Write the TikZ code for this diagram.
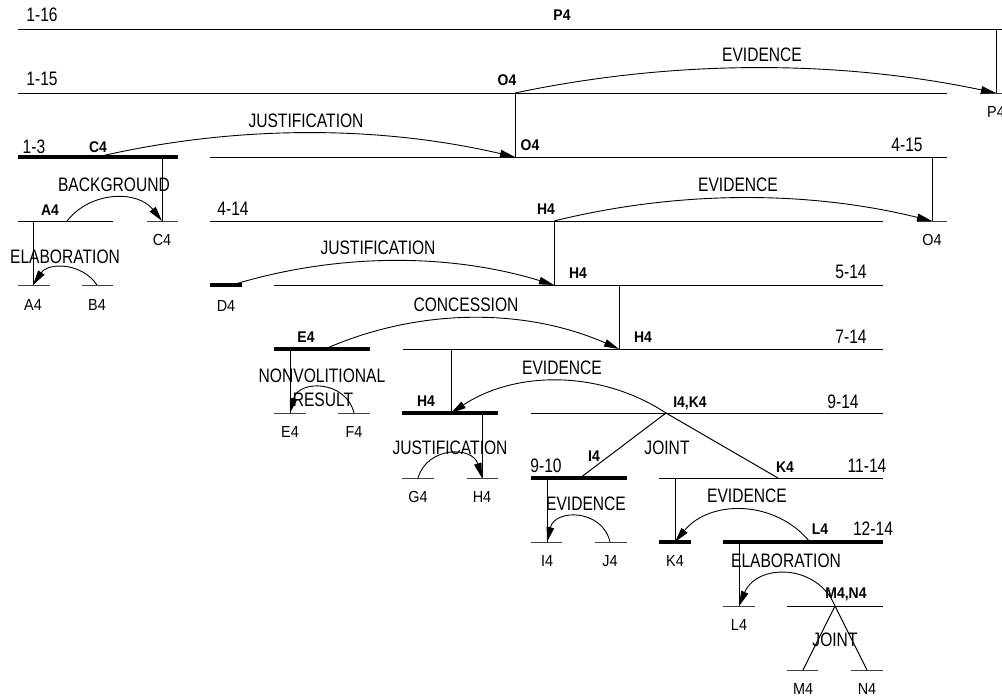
\documentclass[tikz,border=0pt]{standalone}
\usepackage{fontspec}
\setmainfont{Liberation Sans}[FakeStretch=0.8]
\newfontfamily\smallf{Liberation Sans}[FakeStretch=0.9]
\usetikzlibrary{arrows.meta}
\begin{document}
\begin{tikzpicture}[x=1pt,y=-1pt,
  thn/.style={line width=1pt,black},
  thk/.style={line width=3.3pt,black},
  leaf/.style={line width=1pt,black!75},
  rel/.style={line width=0.9pt,-{Triangle[length=15pt,width=7.5pt]}},
  big/.style={inner sep=0pt,font=\fontsize{19.5pt}{20pt}\selectfont,text height=14pt,text depth=0pt},
  bl/.style={inner sep=0pt,font=\smallf\bfseries\fontsize{15.5pt}{16pt}\selectfont,text height=11pt,text depth=0pt},
  lf/.style={inner sep=0pt,font=\smallf\fontsize{16pt}{17pt}\selectfont,text height=11.4pt,text depth=0pt}]
\useasboundingbox (0,0) rectangle (1002,696);
\clip (0,0) rectangle (1002,696);

% ---------- span lines ----------
\draw[thn] (18,29) -- (1012,29);
\draw[thn] (18,93) -- (947,93);
\draw[leaf] (980,93) -- (1012,93);
\draw[thk] (18,157) -- (178,157);
\draw[thn] (210,157) -- (947,157);
\draw[thn] (18,221) -- (113,221);
\draw[leaf] (147,221) -- (178,221);
\draw[thn] (210,221) -- (883,221);
\draw[leaf] (917,221) -- (947,221);
\draw[leaf] (18,285) -- (50,285);
\draw[leaf] (82,285) -- (113,285);
\draw[thk] (210,285) -- (242,285);
\draw[thn] (274,285) -- (883,285);
\draw[thk] (274,349) -- (370,349);
\draw[thn] (403,349) -- (883,349);
\draw[leaf] (274,413) -- (306,413);
\draw[leaf] (338,413) -- (370,413);
\draw[thk] (402,413) -- (498,413);
\draw[thn] (531,413) -- (883,413);
\draw[leaf] (402,478) -- (434,478);
\draw[leaf] (467,478) -- (498,478);
\draw[thk] (531,478) -- (627,478);
\draw[thn] (659,478) -- (883,478);
\draw[leaf] (531,542) -- (562,542);
\draw[leaf] (595,542) -- (627,542);
\draw[thk] (659,542) -- (691,542);
\draw[thk] (723,542) -- (883,542);
\draw[leaf] (723,606) -- (755,606);
\draw[thn] (787,606) -- (883,606);
\draw[leaf] (787,670) -- (818,670);
\draw[leaf] (851,670) -- (883,670);

% ---------- attachment points ----------
\coordinate (P4a) at (996,29);  \coordinate (P4b) at (996,93);
\coordinate (O4a) at (515,93);  \coordinate (O4b) at (515,157);
\coordinate (C4a) at (97,157);
\coordinate (C4v) at (162,157); \coordinate (C4b) at (162,221);
\coordinate (O4c) at (932,157); \coordinate (O4d) at (932,221);
\coordinate (A4a) at (67,221);
\coordinate (A4v) at (33,221);  \coordinate (A4b) at (33,285);
\coordinate (B4) at (97,285);
\coordinate (H4a) at (554,221); \coordinate (H4b) at (554,285);
\coordinate (D4) at (232,285);
\coordinate (H4c) at (619,285); \coordinate (H4d) at (619,349);
\coordinate (E4a) at (325,349);
\coordinate (E4v) at (290,349); \coordinate (E4b) at (290,413);
\coordinate (F4) at (354,413);
\coordinate (H4e) at (451,349); \coordinate (H4f) at (451,413);
\coordinate (IK) at (666,413);
\coordinate (H4g) at (482,413); \coordinate (H4h) at (482,478);
\coordinate (G4) at (418,478);
\coordinate (I4a) at (580,478);
\coordinate (K4a) at (778,478);
\coordinate (I4v) at (547,478); \coordinate (I4b) at (547,542);
\coordinate (J4) at (610,542);
\coordinate (K4v) at (675,478); \coordinate (K4b) at (675,542);
\coordinate (L4a) at (810,542);
\coordinate (L4v) at (739,542); \coordinate (L4b) at (739,606);
\coordinate (MN) at (835,606);
\coordinate (M4) at (803,670);  \coordinate (N4) at (867,670);

% ---------- vertical (nucleus) lines ----------
\draw[thn] (P4a) -- (P4b);
\draw[thn] (O4a) -- (O4b);
\draw[thn] (C4v) -- (C4b);
\draw[thn] (O4c) -- (O4d);
\draw[thn] (A4v) -- (A4b);
\draw[thn] (H4a) -- (H4b);
\draw[thn] (H4c) -- (H4d);
\draw[thn] (E4v) -- (E4b);
\draw[thn] (H4e) -- (H4f);
\draw[thn] (H4g) -- (H4h);
\draw[thn] (I4v) -- (I4b);
\draw[thn] (K4v) -- (K4b);
\draw[thn] (L4v) -- (L4b);

% ---------- joint lines ----------
\draw[thn] (IK) -- (I4a);
\draw[thn] (IK) -- (K4a);
\draw[thn] (MN) -- (M4);
\draw[thn] (MN) -- (N4);

% ---------- relation arcs ----------
\draw[rel] (O4a) .. controls +(158.6,-33.4) and +(-158.6,-33.4) .. (P4b);
\draw[rel] (C4a) .. controls +(137.5,-32.0) and +(-137.5,-32.0) .. (O4b);
\draw[rel] (H4a) .. controls +(124.2,-30.7) and +(-124.2,-30.7) .. (O4d);
\draw[rel] (A4a) .. controls +(24.2,-30.65) and +(-24.2,-30.65) .. (C4b);
\draw[rel] (B4) .. controls +(-15.3,-22.7) and +(15.3,-22.7) .. (A4b);
\draw[rel] (D4) .. controls +(104.9,-32.1) and +(-104.9,-32.1) .. (H4b);
\draw[rel] (E4a) .. controls +(93.6,-41.3) and +(-93.6,-41.3) .. (H4d);
\draw[rel] (F4) .. controls +(-8.3,-33.3) and +(8.3,-33.3) .. (E4b);
\draw[rel] (IK) .. controls +(-65.3,-42.8) and +(65.3,-42.8) .. (H4f);
\draw[rel] (G4) .. controls +(9.4,-32.0) and +(-9.4,-32.0) .. (H4h);
\draw[rel] (J4) .. controls +(-7.75,-33.3) and +(7.75,-33.3) .. (I4b);
\draw[rel] (L4a) .. controls +(-34.9,-42.6) and +(34.9,-42.6) .. (K4b);
\draw[rel] (MN) .. controls +(-17.8,-42.7) and +(17.8,-42.7) .. (L4b);

% ---------- labels ----------
\node[big] (t116) at (42,14) {1-16};
\node[bl] (tP4) at (562,15) {P4};
\node[big] (t115) at (42,78) {1-15};
\node[bl] (tO4a) at (507,80) {O4};
\node[big] (tEv1) at (762,54) {EVIDENCE};
\node[lf] (tP4l) at (996,112) {P4};
\node[big] (tJu1) at (306,120) {JUSTIFICATION};
\node[big] (t13) at (34,146) {1-3};
\node[bl] (tC4) at (98,147) {C4};
\node[bl] (tO4b) at (530,145) {O4};
\node[big] (t415) at (907,144) {4-15};
\node[big] (tBg) at (114,184) {BACKGROUND};
\node[bl] (tA4) at (50,210) {A4};
\node[big] (t414) at (233,208) {4-14};
\node[bl] (tH4a) at (546,209) {H4};
\node[big] (tEv2) at (738,184) {EVIDENCE};
\node[lf] (tC4l) at (162,240) {C4};
\node[lf] (tO4l) at (932,240) {O4};
\node[big] (tJu2) at (378,247) {JUSTIFICATION};
\node[big] (tEl1) at (65,256) {ELABORATION};
\node[bl] (tH4b) at (578,273) {H4};
\node[big] (t514) at (851,271) {5-14};
\node[lf] (tA4l) at (33,305) {A4};
\node[lf] (tB4l) at (97,305) {B4};
\node[lf] (tD4l) at (226,306) {D4};
\node[big] (tCon) at (466,304) {CONCESSION};
\node[bl] (tE4) at (306,337) {E4};
\node[bl] (tH4c) at (643,337) {H4};
\node[big] (t714) at (851,336) {7-14};
\node[big] (tNv) at (322,375) {NONVOLITIONAL};
\node[big] (tRs) at (323,399) {RESULT};
\node[big] (tEv3) at (562,367) {EVIDENCE};
\node[bl] (tH4d) at (426,401) {H4};
\node[bl] (tIK) at (690,402) {I4,K4};
\node[big] (t914) at (843,401) {9-14};
\node[lf] (tE4l) at (290,432) {E4};
\node[lf] (tF4l) at (354,432) {F4};
\node[big] (tJu3) at (450,447) {JUSTIFICATION};
\node[big] (tJt1) at (667,447) {JOINT};
\node[bl] (tI4) at (594,456) {I4};
\node[big] (t910) at (546,465) {9-10};
\node[bl] (tK4) at (785,467) {K4};
\node[big] (t1114) at (867,465) {11-14};
\node[lf] (tG4l) at (418,497) {G4};
\node[lf] (tH4l) at (482,497) {H4};
\node[big] (tEv4) at (586,503) {EVIDENCE};
\node[big] (tEv5) at (747,495) {EVIDENCE};
\node[bl] (tL4) at (820,529) {L4};
\node[big] (t1214) at (873,528) {12-14};
\node[lf] (tI4l) at (547,561) {I4};
\node[lf] (tJ4l) at (610,561) {J4};
\node[lf] (tK4l) at (675,561) {K4};
\node[big] (tEl2) at (786,560) {ELABORATION};
\node[bl] (tMN) at (846,593) {M4,N4};
\node[lf] (tL4l) at (739,625) {L4};
\node[big] (tJt2) at (835,639) {JOINT};
\node[lf] (tM4l) at (803,689) {M4};
\node[lf] (tN4l) at (867,689) {N4};
\end{tikzpicture}
\end{document}
